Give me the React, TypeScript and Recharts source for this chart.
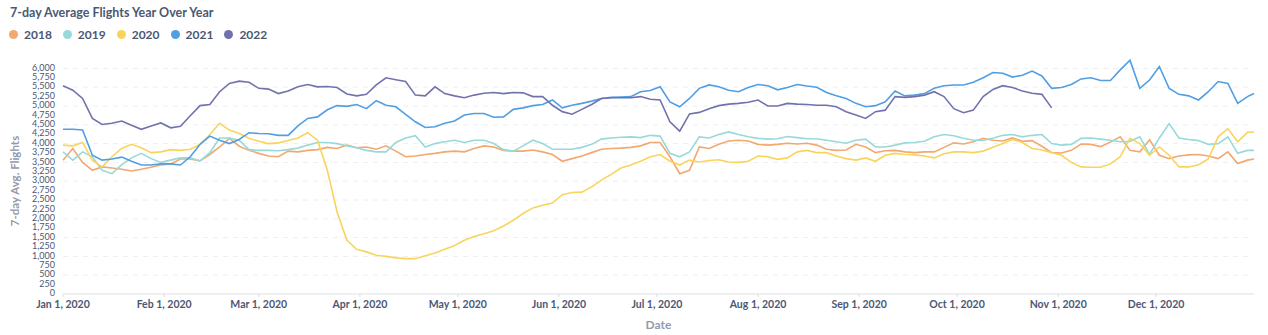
import { LineChart, Line, XAxis, YAxis, CartesianGrid, Label } from 'recharts'

// one sample every 3 days (day 0 = Jan 1, 2020), last one is Dec 31
const days = [
  0, 3, 6, 9, 12, 15, 18, 21, 24, 27, 30,
  33, 36, 39, 42, 45, 48, 51, 54, 57, 60, 63,
  66, 69, 72, 75, 78, 81, 84, 87, 90, 93, 96, 99,
  102, 105, 108, 111, 114, 117, 120, 123, 126, 129, 132,
  135, 138, 141, 144, 147, 150, 153, 156, 159, 162, 165,
  168, 171, 174, 177, 180, 183, 186, 189, 192, 195, 198,
  201, 204, 207, 210, 213, 216, 219, 222, 225, 228, 231,
  234, 237, 240, 243, 246, 249, 252, 255, 258, 261, 264, 267,
  270, 273, 276, 279, 282, 285, 288, 291, 294, 297, 300,
  303, 306, 309, 312, 315, 318, 321, 324, 327, 330, 333,
  336, 339, 342, 345, 348, 351, 354, 357, 360, 363, 365,
]

const y2018 = [
  3560, 3870, 3500, 3290, 3380, 3350, 3320, 3270, 3320, 3370, 3430,
  3460, 3590, 3590, 3540, 3710, 3910, 4140, 3930, 3820, 3740, 3670,
  3650, 3800, 3780, 3820, 3840, 3900, 3870, 3960, 3890, 3910, 3850, 3940,
  3800, 3650, 3670, 3710, 3740, 3780, 3800, 3780, 3870, 3940, 3910,
  3820, 3800, 3800, 3830, 3780, 3710, 3530, 3600, 3670, 3760, 3850,
  3870, 3880, 3900, 3940, 4030, 4030, 3650, 3200, 3290, 3910, 3870,
  3980, 4070, 4090, 4070, 3980, 3960, 3980, 4010, 3990, 4010, 3960,
  3850, 3820, 3830, 3980, 3910, 3760, 3810, 3820, 3780, 3760, 3780, 3780,
  3900, 4020, 3990, 4050, 4140, 4090, 4070, 4150, 4060, 4080, 3930,
  3760, 3750, 3820, 3990, 3980, 3920, 4040, 4180, 3820, 3780, 4100,
  3690, 3600, 3670, 3700, 3710, 3670, 3600, 3780, 3470, 3560, 3590,
]

const y2019 = [
  3780, 3560, 3780, 3650, 3290, 3200, 3440, 3620, 3740, 3600, 3500,
  3560, 3620, 3620, 3540, 3760, 4150, 4150, 4090, 3840, 3820, 3820,
  3810, 3840, 3880, 3960, 4030, 4030, 4000, 3940, 3890, 3820, 3780, 3780,
  4030, 4150, 4210, 3910, 4000, 4050, 4090, 4030, 4090, 4090, 4000,
  3840, 3800, 3940, 4090, 4000, 3850, 3850, 3850, 3900, 3980, 4120,
  4150, 4170, 4180, 4160, 4220, 4200, 3740, 3650, 3780, 4180, 4150,
  4240, 4310, 4240, 4180, 4140, 4120, 4130, 4190, 4160, 4130, 4130,
  4090, 4050, 4010, 4090, 4120, 3910, 3910, 3960, 4020, 4030, 4060, 4180,
  4240, 4210, 4140, 4090, 4090, 4140, 4220, 4240, 4180, 4220, 4240,
  4000, 3960, 3980, 4140, 4150, 4120, 4090, 4050, 4060, 4180, 3710,
  4150, 4530, 4150, 4110, 4080, 3980, 4000, 4180, 3740, 3820, 3820,
]

const y2020 = [
  3960, 3940, 4030, 3560, 3380, 3650, 3870, 3980, 3890, 3760, 3780,
  3840, 3820, 3850, 3980, 4240, 4540, 4360, 4270, 4140, 4060, 4000,
  4020, 4080, 4150, 4290, 4090, 3290, 2180, 1430, 1190, 1120, 1030, 1000,
  960, 940, 940, 1020, 1090, 1190, 1290, 1430, 1530, 1600, 1680,
  1810, 1960, 2140, 2290, 2360, 2420, 2640, 2700, 2710, 2850, 3030,
  3180, 3350, 3430, 3530, 3650, 3710, 3530, 3430, 3560, 3510, 3550,
  3570, 3510, 3500, 3530, 3670, 3650, 3580, 3620, 3780, 3820, 3760,
  3760, 3670, 3600, 3560, 3620, 3530, 3690, 3740, 3710, 3700, 3670, 3620,
  3730, 3780, 3780, 3760, 3800, 3900, 4000, 4110, 4030, 3870, 3830,
  3760, 3690, 3500, 3380, 3370, 3370, 3460, 3650, 4140, 4000, 3690,
  3910, 3690, 3380, 3380, 3440, 3590, 4180, 4400, 4050, 4300, 4310,
]

const y2021 = [
  4380, 4380, 4360, 3690, 3560, 3590, 3640, 3530, 3430, 3430, 3460,
  3460, 3430, 3650, 3980, 4200, 4090, 4000, 4110, 4290, 4270, 4260,
  4220, 4220, 4470, 4670, 4710, 4900, 5010, 4990, 5040, 4930, 5140, 5020,
  4980, 4780, 4580, 4430, 4450, 4540, 4600, 4760, 4800, 4800, 4700,
  4710, 4910, 4950, 5010, 5040, 5160, 4950, 5020, 5070, 5130, 5200,
  5230, 5240, 5250, 5380, 5410, 5510, 5110, 4980, 5200, 5470, 5560,
  5510, 5420, 5380, 5490, 5570, 5540, 5430, 5490, 5570, 5530, 5500,
  5360, 5270, 5200, 5070, 4980, 5010, 5110, 5400, 5270, 5290, 5330, 5470,
  5540, 5560, 5560, 5630, 5750, 5890, 5870, 5770, 5820, 5930, 5800,
  5470, 5490, 5570, 5720, 5750, 5680, 5680, 5960, 6220, 5470, 5690,
  6050, 5470, 5310, 5270, 5160, 5380, 5650, 5600, 5070, 5250, 5330,
]

// 2022 stops at the end of October
const y2022 = [
  5540, 5420, 5200, 4670, 4510, 4540, 4600, 4490, 4380, 4470, 4550,
  4420, 4460, 4740, 5010, 5040, 5380, 5600, 5660, 5630, 5470, 5450,
  5330, 5400, 5510, 5570, 5510, 5520, 5490, 5320, 5270, 5310, 5560, 5750,
  5700, 5650, 5290, 5270, 5510, 5330, 5270, 5220, 5290, 5340, 5360,
  5330, 5360, 5350, 5250, 5250, 5020, 4850, 4780, 4910, 5040, 5200,
  5220, 5220, 5220, 5250, 5180, 5160, 4580, 4330, 4790, 4830, 4930,
  5010, 5050, 5070, 5100, 5160, 5000, 5000, 5070, 5050, 5040, 5020,
  5020, 4980, 4850, 4760, 4670, 4850, 4890, 5250, 5230, 5250, 5290, 5380,
  5250, 4930, 4820, 4890, 5250, 5440, 5540, 5490, 5400, 5340, 5310,
  4950, null, null, null, null, null, null, null, null, null, null,
  null, null, null, null, null, null, null, null, null, null, null,
]

const monthTicks = [0, 31, 60, 91, 121, 152, 182, 213, 244, 274, 305, 335]
const monthLabels = [
  'Jan 1, 2020', 'Feb 1, 2020', 'Mar 1, 2020', 'Apr 1, 2020', 'May 1, 2020', 'Jun 1, 2020',
  'Jul 1, 2020', 'Aug 1, 2020', 'Sep 1, 2020', 'Oct 1, 2020', 'Nov 1, 2020', 'Dec 1, 2020',
]

const yTicks = Array.from({ length: 25 }, (_, i) => i * 250)
const gridValues = Array.from({ length: 12 }, (_, i) => (i + 1) * 500)

const series = [
  { key: 'y2018', name: '2018', color: '#F2A86F' },
  { key: 'y2019', name: '2019', color: '#98D9D9' },
  { key: 'y2020', name: '2020', color: '#F9D45C' },
  { key: 'y2021', name: '2021', color: '#509EE3' },
  { key: 'y2022', name: '2022', color: '#7172AD' },
]

const data = days.map((day, i) => ({
  day,
  y2018: y2018[i],
  y2019: y2019[i],
  y2020: y2020[i],
  y2021: y2021[i],
  y2022: y2022[i],
}))

const textColor = '#4C5773'
const axisColor = '#949AAB'

export default function App() {
  return (
    <div
      style={{
        position: 'absolute',
        left: 0,
        top: 0,
        width: 1268,
        height: 335,
        background: '#fff',
        fontFamily: 'Lato, sans-serif',
        overflow: 'hidden',
      }}
    >
      <div style={{ position: 'absolute', left: 10, top: 5, fontSize: 12.5, fontWeight: 700, color: textColor }}>
        7-day Average Flights Year Over Year
      </div>
      <div style={{ position: 'absolute', left: 9, top: 27, display: 'flex', gap: 11 }}>
        {series.map(s => (
          <div key={s.key} style={{ display: 'flex', alignItems: 'center', gap: 6 }}>
            <div style={{ width: 9, height: 9, borderRadius: '50%', background: s.color }} />
            <span style={{ fontSize: 12, fontWeight: 700, color: textColor }}>{s.name}</span>
          </div>
        ))}
      </div>
      <div style={{ position: 'absolute', left: 0, top: 0 }}>
        <LineChart width={1268} height={335} data={data} margin={{ top: 59, right: 14, left: 0, bottom: 0 }}>
          <CartesianGrid
            vertical={false}
            horizontalValues={gridValues}
            stroke="#EDEEF0"
            strokeDasharray="5 5"
          />
          <XAxis
            dataKey="day"
            type="number"
            domain={[0, 365]}
            ticks={monthTicks}
            tickFormatter={(v: number) => monthLabels[monthTicks.indexOf(v)]}
            height={41}
            stroke="#DCDFE4"
            tick={{ fill: textColor, fontSize: 10.5, fontWeight: 700, dy: 2 }}
            tickSize={3}
            interval={0}
          >
            <Label value="Date" position="insideBottom" offset={6} fill={axisColor} fontSize={12} fontWeight={700} />
          </XAxis>
          <YAxis
            type="number"
            domain={[0, 6250]}
            ticks={yTicks}
            width={63}
            axisLine={false}
            tickLine={false}
            interval={0}
            tickFormatter={(v: number) => v.toLocaleString('en-US')}
            tick={{ fill: textColor, fontSize: 9, dy: -1 }}
          >
            <Label
              content={() => (
                <text
                  x={19}
                  y={181}
                  transform="rotate(-90, 19, 181)"
                  textAnchor="middle"
                  fill={axisColor}
                  fontSize={11.5}
                  fontWeight={700}
                >
                  7-day Avg. Flights
                </text>
              )}
            />
          </YAxis>
          {series.map(s => (
            <Line
              key={s.key}
              dataKey={s.key}
              name={s.name}
              stroke={s.color}
              strokeWidth={1.6}
              dot={false}
              type="linear"
              connectNulls={false}
              isAnimationActive={false}
            />
          ))}
        </LineChart>
      </div>
    </div>
  )
}
